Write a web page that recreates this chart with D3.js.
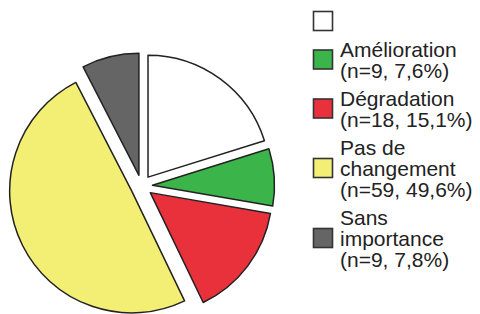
<!DOCTYPE html>
<html>
<head>
<meta charset="utf-8">
<script src="https://cdn.jsdelivr.net/npm/d3@7"></script>
<style>
  body { margin: 0; background: #fff; }
  text { font-family: "Liberation Sans", Arial, sans-serif; font-size: 21px; fill: #222; }
</style>
</head>
<body>
<div id="chart-area"></div>
<script>
// slices, clockwise from 12 o'clock
let categories = ["", "Amélioration", "Dégradation", "Pas de changement", "Sans importance"];
let counts = [24, 9, 18, 59, 9];
let colors = ["#ffffff", "#3bb54a", "#e8313b", "#f3ee74", "#656565"];
// legend text, line by line
let legendLines = [
    [""],
    ["Amélioration", "(n=9, 7,6%)"],
    ["Dégradation", "(n=18, 15,1%)"],
    ["Pas de", "changement", "(n=59, 49,6%)"],
    ["Sans", "importance", "(n=9, 7,8%)"]
];

let width = 480;
let height = 314;
let svg = d3.select("#chart-area")
            .append("svg")
            .attr("width", width)
            .attr("height", height);

let radius = 122;
let explode = 11;

let g = svg.append("g")
           .attr("transform", "translate(141.5, 186)");

let pie = d3.pie().sort(null).value(function(d){ return d; });
let arc = d3.arc().innerRadius(0).outerRadius(radius);

g.selectAll(".slice")
 .data(pie(counts))
 .enter()
 .append("path")
 .attr("class", "slice")
 .attr("d", arc)
 .attr("transform", function(d){
     let a = (d.startAngle + d.endAngle) / 2;
     return "translate(" + (Math.sin(a) * explode) + "," + (-Math.cos(a) * explode) + ")";
 })
 .attr("fill", function(d, i){ return colors[i]; })
 .attr("stroke", "#222")
 .attr("stroke-width", 1.5)
 .attr("stroke-linejoin", "round");

// legend: stack the text blocks, square centred beside each block
let lineH = 21;
let groupGap = 28;
let baseline = 29;
let legend = svg.append("g");

legendLines.forEach(function(lines, i){
    let first = baseline;
    let last = first + (lines.length - 1) * lineH;
    let mid = ((first - 15) + (last + 4)) / 2 - 2;

    legend.append("rect")
          .attr("x", 313.5)
          .attr("y", mid - 10)
          .attr("width", 19)
          .attr("height", 19)
          .attr("fill", colors[i])
          .attr("stroke", "#333")
          .attr("stroke-width", 1.6);

    lines.forEach(function(t, j){
        legend.append("text")
              .attr("x", 340)
              .attr("y", first + j * lineH)
              .text(t);
    });
    baseline = last + groupGap;
});
</script>
</body>
</html>
